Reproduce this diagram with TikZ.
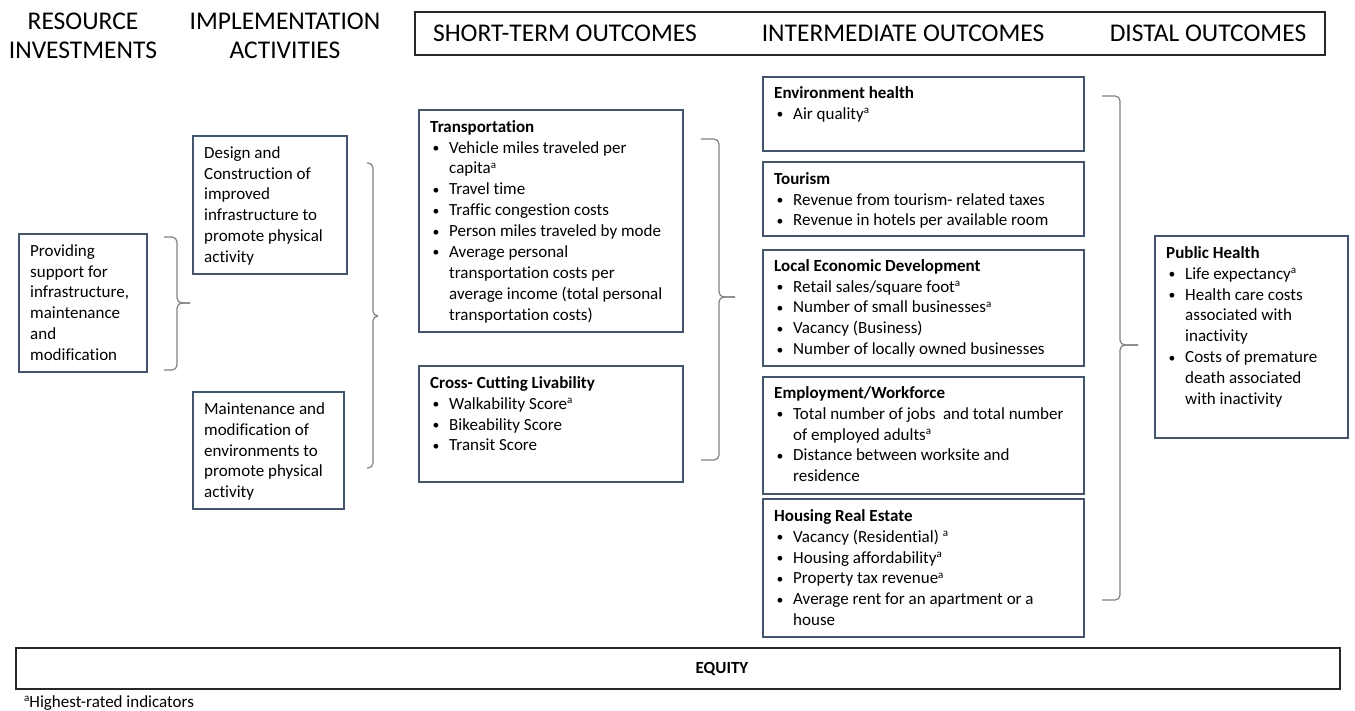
\documentclass[tikz,border=0pt]{standalone}
\usepackage{fontspec}
\setmainfont{Carlito}[Ligatures={NoCommon}]
\usetikzlibrary{calc}
\definecolor{boxc}{RGB}{68,84,106}
\definecolor{brkc}{RGB}{128,128,128}
\definecolor{hdrc}{RGB}{40,40,40}
\newcommand\bu{\makebox[19pt][l]{\hspace{2.5pt}\raisebox{0.6pt}{\scalebox{0.8}{\textbullet}}}}
\newcommand\ct{\hspace*{19pt}}
\newcommand\fs{\rule{0pt}{14pt}}
\newcommand\sa{\raisebox{0.33em}{\fontsize{11}{11}\selectfont a}}
\newcommand\mkbox[6]{\node[#1, minimum width={(#5-#3)*1pt}, minimum height={(#6-#4)*1pt}] (#2) at (#3,#4) {};}
\newcommand\brc[6]{\draw[brk] (#1,#3) -- (#2,#3) -- (#2,#6) -- (#5,#6); \draw[brk] (#5,#6) -- (#2,#6) -- (#2,#4) -- (#1,#4);}
\begin{document}
\begin{tikzpicture}[x=1pt,y=-1pt,
 box/.style={draw=boxc, line width=1.3pt, inner sep=0pt, outer sep=0pt, anchor=north west},
 frame/.style={draw=hdrc, line width=1.3pt, inner sep=0pt, outer sep=0pt, anchor=north west},
 txt/.style={anchor=north west, inner sep=0pt, align=left, font=\fontsize{17}{20.9}\selectfont},
 hdr/.style={inner sep=0pt, align=center, font=\fontsize{25.5}{29}\selectfont},
 brk/.style={draw=brkc, line width=1.2pt, rounded corners=5pt}]
\useasboundingbox (0,0) rectangle (1355,711);

% column headings
\node[hdr] (h-res) at (83,35.5) {RESOURCE\\INVESTMENTS};
\node[hdr] (h-imp) at (285,35.5) {IMPLEMENTATION\\ACTIVITIES};
\mkbox{frame}{hbox}{415}{12}{1325}{55}
\node[hdr] (h-st) at (565,33) {SHORT-TERM OUTCOMES};
\node[hdr] (h-int) at (903,33) {INTERMEDIATE OUTCOMES};
\node[hdr] (h-dis) at (1208,33) {DISTAL OUTCOMES};

% boxes
\mkbox{box}{prov}{19}{234}{147}{372}
\mkbox{box}{design}{193}{136}{347}{274}
\mkbox{box}{maint}{193}{392}{344}{509}
\mkbox{box}{trans}{419}{110}{683}{332}
\mkbox{box}{cross}{419}{366}{683}{482}
\mkbox{box}{env}{763}{77}{1084}{151}
\mkbox{box}{tour}{763}{162}{1084}{236}
\mkbox{box}{led}{763}{250}{1084}{366}
\mkbox{box}{emp}{763}{377}{1084}{494}
\mkbox{box}{hous}{763}{499}{1084}{637}
\mkbox{box}{pub}{1155}{236}{1348}{438}
\mkbox{frame}{eq}{16}{648}{1340}{689}

% texts
\node[txt] (prov-t) at ($(prov.north west)+(11,8)$) {\fs Providing\\support for\\infrastructure,\\maintenance\\and\\modification};
\node[txt] (design-t) at ($(design.north west)+(11,8)$) {\fs Design and\\Construction of\\improved\\infrastructure to\\promote physical\\activity};
\node[txt] (maint-t) at ($(maint.north west)+(11,8)$) {\fs Maintenance and\\modification of\\environments to\\promote physical\\activity};
\node[txt] (trans-t) at ($(trans.north west)+(11,8)$) {\fs\textbf{Transportation}\\\bu Vehicle miles traveled per\\\ct capita\sa\\\bu Travel time\\\bu Traffic congestion costs\\\bu Person miles traveled by mode\\\bu Average personal\\\ct transportation costs per\\\ct average income (total personal\\\ct transportation costs)};
\node[txt] (cross-t) at ($(cross.north west)+(11,8)$) {\fs\textbf{Cross- Cutting Livability}\\\bu Walkability Score\sa\\\bu Bikeability Score\\\bu Transit Score};
\node[txt] (env-t) at ($(env.north west)+(11,7)$) {\fs\textbf{Environment health}\\\bu Air quality\sa};
\node[txt] (tour-t) at ($(tour.north west)+(11,8)$) {\fs\textbf{Tourism}\\\bu Revenue from tourism- related taxes\\\bu Revenue in hotels per available room};
\node[txt] (led-t) at ($(led.north west)+(11,7)$) {\fs\textbf{Local Economic Development}\\\bu Retail sales/square foot\sa\\\bu Number of small businesses\sa\\\bu Vacancy (Business)\\\bu Number of locally owned businesses};
\node[txt] (emp-t) at ($(emp.north west)+(11,7)$) {\fs\textbf{Employment/Workforce}\\\bu Total number of jobs\ \ and total number\\\ct of employed adults\sa\\\bu Distance between worksite and\\\ct residence};
\node[txt] (hous-t) at ($(hous.north west)+(11,8)$) {\fs\textbf{Housing Real Estate}\\\bu Vacancy (Residential) \sa\\\bu Housing affordability\sa\\\bu Property tax revenue\sa\\\bu Average rent for an apartment or a\\\ct house};
\node[txt] (pub-t) at ($(pub.north west)+(11,8)$) {\fs\textbf{Public Health}\\\bu Life expectancy\sa\\\bu Health care costs\\\ct associated with\\\ct inactivity\\\bu Costs of premature\\\ct death associated\\\ct with inactivity};
\node[inner sep=0pt, font=\fontsize{17}{20.9}\selectfont\bfseries] (eq-t) at (722,668.5) {EQUITY};
\node[inner sep=0pt, anchor=base west, font=\fontsize{17}{20.9}\selectfont] (note) at (24,707) {\sa Highest-rated indicators};

% braces
\brc{164}{177}{237}{370}{190}{303}
\brc{367}{373}{163}{468}{378}{316}
\brc{701}{719}{139}{460}{735}{297}
\brc{1102}{1120}{96}{600}{1138}{345}
\end{tikzpicture}
\end{document}
